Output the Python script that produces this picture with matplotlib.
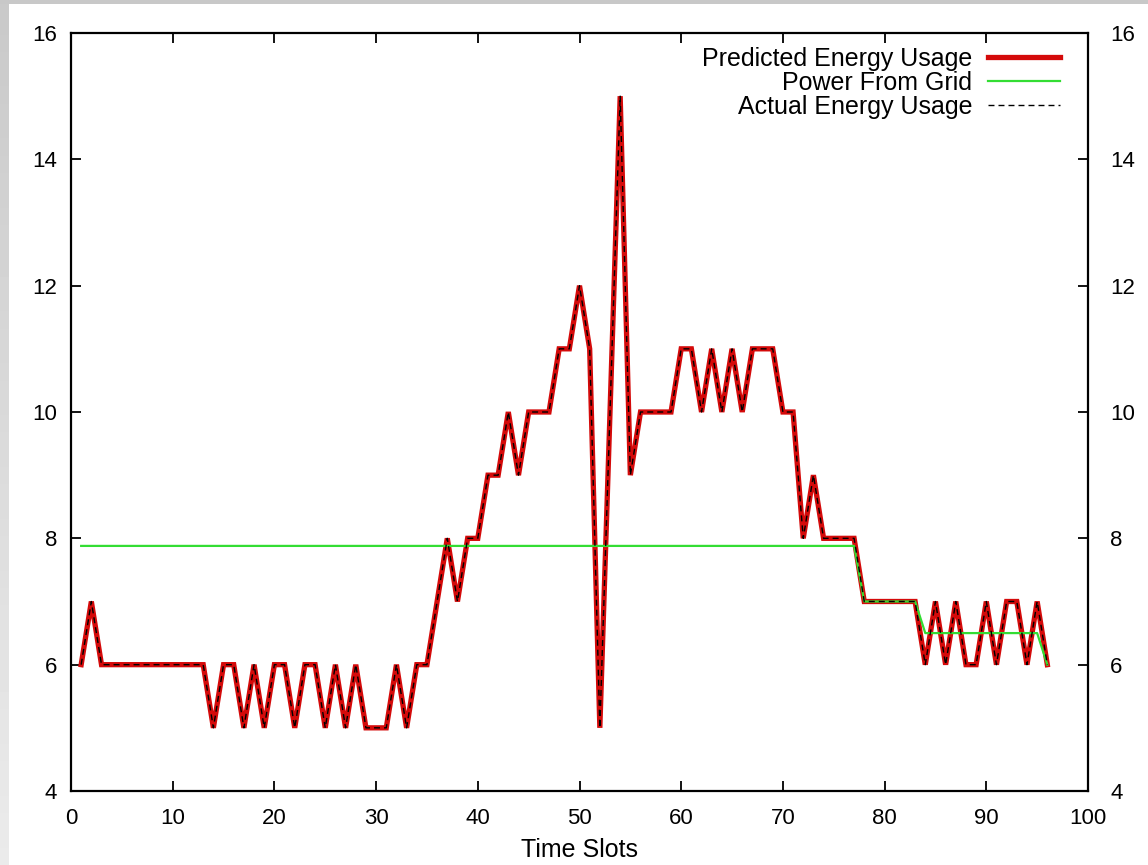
import numpy as np
import matplotlib
matplotlib.use("Agg")
import matplotlib.pyplot as plt

plt.rcParams['font.family'] = ['Liberation Sans', 'DejaVu Sans']

# time slots 1..96
time_slots = list(range(1, 97))

# predicted energy usage
predicted_usage = [
    6, 7, 6, 6, 6, 6, 6, 6, 6, 6,        # 1-10
    6, 6, 6, 5, 6, 6, 5, 6, 5, 6,        # 11-20
    6, 5, 6, 6, 5, 6, 5, 6, 5, 5,        # 21-30
    5, 6, 5, 6, 6, 7, 8, 7, 8, 8,        # 31-40
    9, 9, 10, 9, 10, 10, 10, 11, 11, 12,  # 41-50
    11, 5, 10, 15, 9, 10, 10, 10, 10, 11,  # 51-60
    11, 10, 11, 10, 11, 10, 11, 11, 11, 10,  # 61-70
    10, 8, 9, 8, 8, 8, 8, 7, 7, 7,        # 71-80
    7, 7, 7, 6, 7, 6, 7, 6, 6, 7,         # 81-90
    6, 7, 7, 6, 7, 6,                     # 91-96
]

# power from grid
grid_power = [7.88] * 77 + [7.0] * 6 + [6.5] * 12 + [6.0]

# actual usage lies exactly on top of the prediction in the picture
actual_usage = list(predicted_usage)

x_ticks = list(range(0, 101, 10))
y_ticks = list(range(4, 17, 2))

fig = plt.figure(figsize=(11.48, 8.65), dpi=100)
fig.patch.set_facecolor('white')

# grey frame strips at the left and top edges
strip = fig.add_axes([0, 0, 9 / 1148, 1])
strip.imshow(np.linspace(0.79, 0.92, 50).reshape(-1, 1), cmap='gray', vmin=0, vmax=1,
             aspect='auto', extent=[0, 1, 0, 1], origin='upper')
strip.axis('off')
top = fig.add_axes([0, 1 - 4 / 865, 1, 4 / 865])
top.set_facecolor('#c8c8c8')
top.set_xticks([])
top.set_yticks([])
for s in top.spines.values():
    s.set_visible(False)

ax = fig.add_axes([71 / 1148, 74 / 865, 1017 / 1148, 758 / 865])

ax.plot(time_slots, predicted_usage, color='#d40a0a', lw=3.8, label='Predicted Energy Usage',
        solid_joinstyle='miter', zorder=2)
ax.plot(time_slots, grid_power, color='#33dd33', lw=1.6, label='Power From Grid', zorder=3)
ax.plot(time_slots, actual_usage, color='black', lw=1.0, dashes=(4.3, 2.9),
        label='Actual Energy Usage', zorder=4)

ax.set_xlim(0, 100)
ax.set_ylim(4, 16)
ax.set_xticks(x_ticks)
ax.set_yticks(y_ticks)
ax.tick_params(axis='y', direction='in', length=7, width=1.3, labelsize=16, pad=10)
ax.tick_params(axis='x', direction='in', length=7, width=1.3, labelsize=16, top=True, pad=12)
for s in ax.spines.values():
    s.set_linewidth(1.6)
ax.set_xlabel('Time Slots', fontsize=18, labelpad=7)

ax2 = ax.twinx()
ax2.set_ylim(4, 16)
ax2.set_yticks(y_ticks)
ax2.tick_params(direction='in', length=7, width=1.3, labelsize=16, pad=16)
for s in ax2.spines.values():
    s.set_visible(False)

leg = ax.legend(loc='upper right', bbox_to_anchor=(1 - 28 / 1017, 1 - 14 / 758),
                borderaxespad=0, borderpad=0, frameon=False, markerfirst=False,
                fontsize=18, handlelength=2.9, handletextpad=0.6, labelspacing=0.0)

fig.savefig('out.png', dpi=100)
